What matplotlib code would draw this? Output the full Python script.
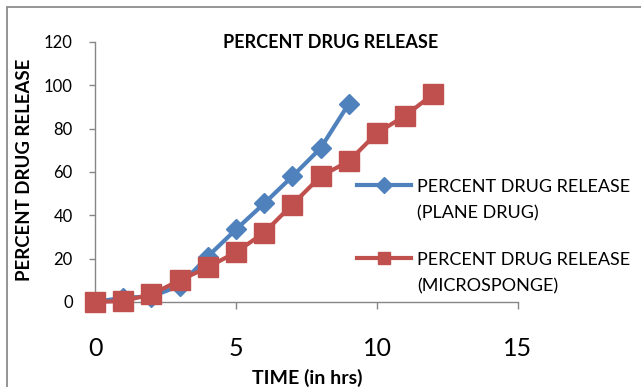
import matplotlib
matplotlib.use("Agg")
import matplotlib.pyplot as plt
from matplotlib.lines import Line2D
from matplotlib.patches import Rectangle

plt.rcParams['font.family'] = ['Lato', 'DejaVu Sans']

# Release data (time in hours vs. percent released)
time_plane = [0, 1, 2, 3, 4, 5, 6, 7, 8, 9]
release_plane = [0, 2, 2.5, 7.5, 21, 33.5, 45.5, 58, 71, 91.5]

time_micro = [0, 1, 2, 3, 4, 5, 6, 7, 8, 9, 10, 11, 12]
release_micro = [0, 0.5, 3.5, 10, 16, 23, 32, 45, 58, 65, 78, 86, 96]

series_labels = ["PERCENT DRUG RELEASE\n(PLANE DRUG)",
                 "PERCENT DRUG RELEASE\n(MICROSPONGE)"]
x_ticks = [0, 5, 10, 15]
y_ticks = [0, 20, 40, 60, 80, 100, 120]

BLUE = "#4F81BD"
RED = "#C0504D"
GRAY = "#868686"

W, H = 641, 387
fig = plt.figure(figsize=(W / 100, H / 100), dpi=100)

def fx(px):
    return px / W

def fy(py):
    return 1 - py / H

# outer chart frame (only top and left edges fall inside the canvas)
fig.patches.append(Rectangle((fx(7), fy(420)), fx(700) - fx(7), fy(7) - fy(420),
                             transform=fig.transFigure, fill=False,
                             edgecolor="#8C8C8C", linewidth=1.3))

ax = fig.add_axes([fx(95), fy(302), fx(518) - fx(95), fy(42) - fy(302)])
ax.set_xlim(0, 15)
ax.set_ylim(0, 120)

ax.plot(time_plane, release_plane, color=BLUE, lw=3, marker="D",
        markersize=10, markerfacecolor=BLUE, markeredgecolor=BLUE,
        clip_on=False, zorder=3)
ax.plot(time_micro, release_micro, color=RED, lw=3, marker="s",
        markersize=14, markerfacecolor=RED, markeredgecolor=RED,
        clip_on=False, zorder=4)

for side in ("top", "right"):
    ax.spines[side].set_visible(False)
for side in ("left", "bottom"):
    ax.spines[side].set_color(GRAY)
    ax.spines[side].set_linewidth(1.0)

ax.set_xticks(x_ticks)
ax.set_yticks(y_ticks)
ax.tick_params(axis="y", direction="out", length=4, width=1, color=GRAY,
               labelsize=12, pad=12)
ax.tick_params(axis="x", direction="out", length=5, width=1, color=GRAY,
               labelsize=18, pad=20)

fig.text(fx(331), fy(43), "PERCENT DRUG RELEASE", ha="center", va="center",
         fontsize=13, fontweight="bold")
fig.text(fx(25), fy(170), "PERCENT DRUG RELEASE", ha="center", va="center",
         rotation=90, fontsize=13.4, fontweight="bold")
fig.text(fx(307), fy(378), "TIME (in hrs)", ha="center", va="center",
         fontsize=14, fontweight="bold")

# legend entries to the right of the plot
legend_rows = [(185, BLUE, "D", 8), (258, RED, "s", 9)]
for (py, col, mk, ms), label in zip(legend_rows, series_labels):
    fig.add_artist(Line2D([fx(357), fx(384), fx(411)], [fy(py)] * 3,
                          transform=fig.transFigure, color=col, lw=3,
                          marker=mk, markersize=ms, markevery=[1],
                          markerfacecolor=col, markeredgecolor=col))
    for i, line in enumerate(label.split("\n")):
        fig.text(fx(417), fy(py + 7 + 26 * i), line, ha="left",
                 va="baseline", fontsize=13)

fig.savefig("out.png", dpi=100)
